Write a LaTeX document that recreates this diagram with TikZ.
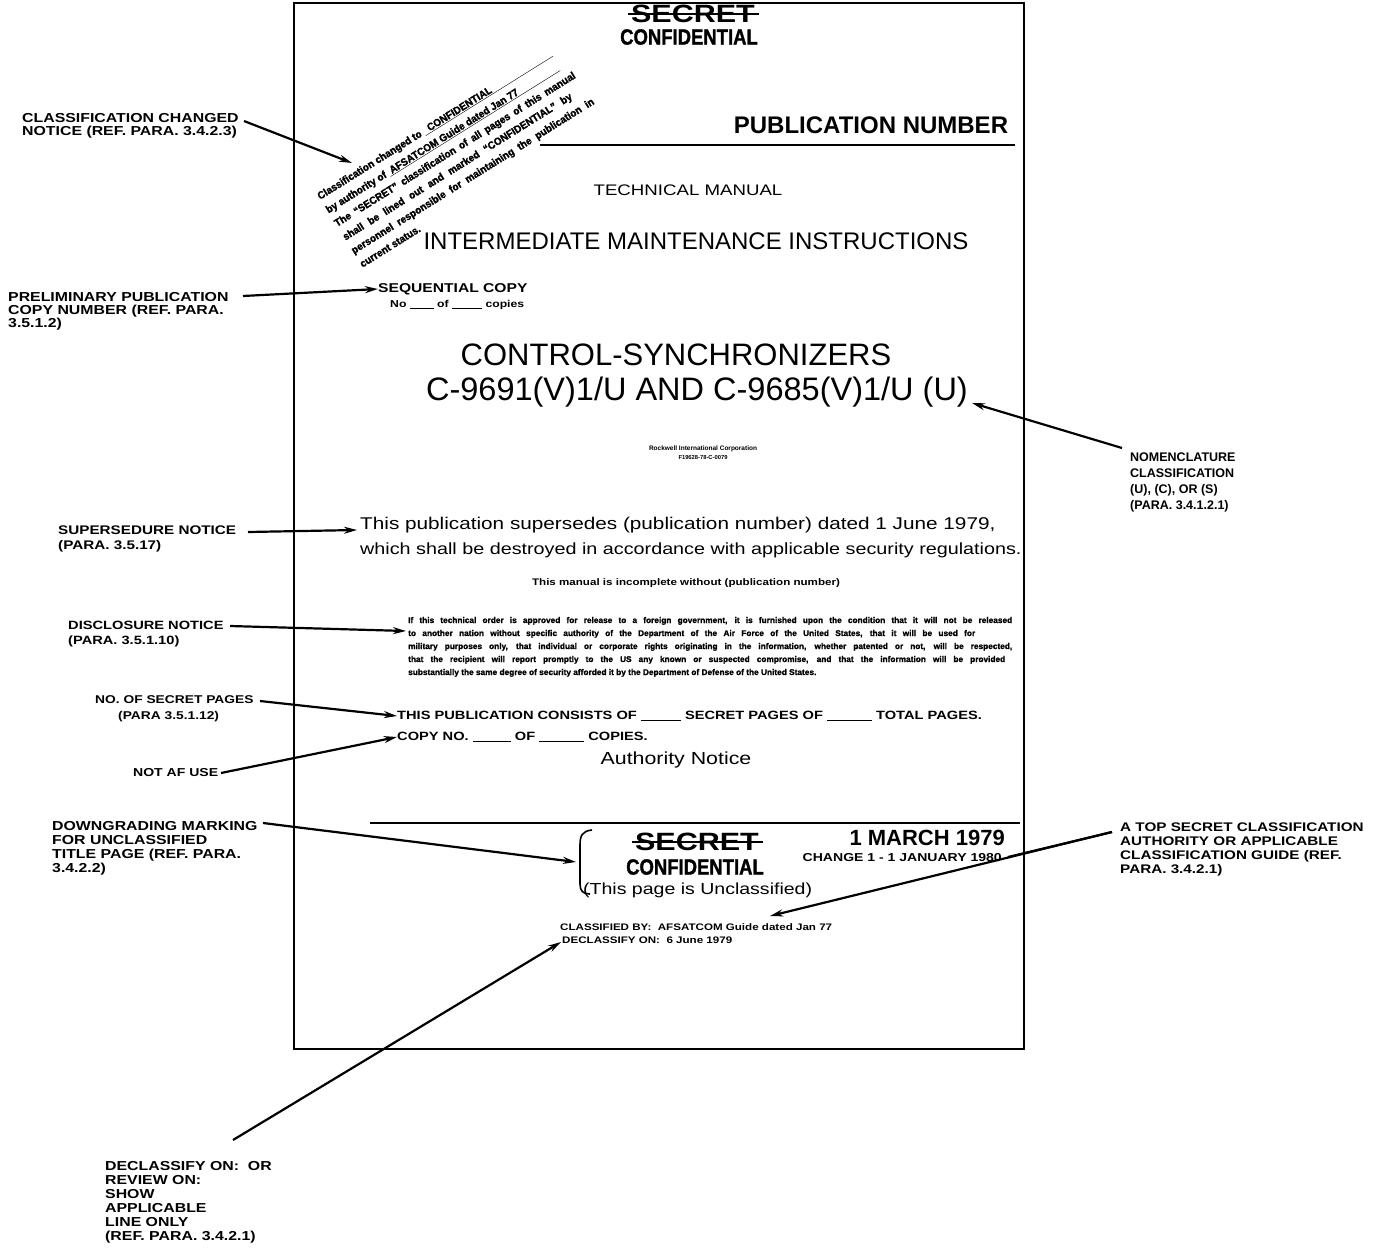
\documentclass[tikz,border=0pt]{standalone}
\usepackage{fontspec}
\setmainfont{Liberation Sans}
\newfontfamily\hv{Liberation Sans}
\newfontfamily\hvw{Liberation Sans}[FakeStretch=1.22]
\newfontfamily\hvc{Liberation Sans}[FakeStretch=0.84,FakeBold=1.5]
\newfontfamily\hvb{Liberation Sans}[FakeBold=1.2]
\newfontfamily\hvs{Liberation Sans}[FakeBold=1.6,FakeStretch=0.95]
\usetikzlibrary{arrows.meta}
\newcommand\blank[1]{\rule[-1pt]{#1pt}{1pt}}
\newcommand\fs[2]{\fontsize{#1}{#2}\selectfont}
\tikzset{
  lab/.style={font=\hvw\bfseries\fs{13}{13.5}, align=left, inner sep=0pt, anchor=north west},
  arr/.style={line width=2.2pt, -{Stealth[length=13pt,width=7pt]}},
  plain/.style={line width=2.2pt},
  txt/.style={inner sep=0pt},
  stamp/.style={font=\hvs\bfseries\fs{10.5}{10.5}, rotate=32, anchor=base west, inner sep=0pt},
  disc/.style={font=\hvb\bfseries\fs{8.3}{8.3}, anchor=base west, inner sep=0pt},
}
\begin{document}
\begin{tikzpicture}[x=1pt,y=-1pt]
\useasboundingbox (0,0) rectangle (1384,1250);
\fill[white] (0,0) rectangle (1384,1250);
% page
\draw[line width=2.5pt] (294,3) rectangle (1024,1049);

% top classification
\node[txt, font=\hvw\bfseries\fs{25}{25}] (topsecret) at (693,14) {SECRET};
\draw[line width=2pt] ([xshift=-3pt]topsecret.west) -- ([xshift=4pt]topsecret.east);
\node[txt, font=\hvc\bfseries\fs{22}{22}] (topconf) at (689,37) {CONFIDENTIAL};
\node[txt, font=\hv\bfseries\fs{24}{24}] (pubnum) at (871,125) {PUBLICATION NUMBER};
\coordinate (r1a) at (540,145);
\coordinate (r1b) at (1015,145);
\draw[line width=1.5pt] (r1a) -- (r1b);

% stamp
\begin{scope}[shift={(320,200)}, rotate=32]
\node[stamp] (s1) at (0,0) {Classification changed to \underline{\makebox[150pt][l]{\ \ CONFIDENTIAL}}};
\node[stamp] (s2) at (0,16) {by authority of \underline{\makebox[200pt][l]{\ AFSATCOM Guide dated Jan 77}}};
\node[stamp] (s3) at (0,32) {\makebox[282pt][s]{The “SECRET” classification of all pages of this manual}};
\node[stamp] (s4) at (0,48) {\makebox[268pt][s]{shall be lined out and marked “CONFIDENTIAL” by}};
\node[stamp] (s5) at (0,64) {\makebox[284pt][s]{personnel responsible for maintaining the publication in}};
\node[stamp] (s6) at (0,80) {current status.};
\end{scope}

\node[txt, font=\hvw\fs{15.3}{15.3}] (techman) at (688,190) {TECHNICAL MANUAL};
\node[txt, font=\hv\fs{24}{24}] (interm) at (696,241) {INTERMEDIATE MAINTENANCE INSTRUCTIONS};

\node[txt, anchor=west, font=\hvw\bfseries\fs{12.8}{12.8}] (seqcopy) at (378,289) {SEQUENTIAL COPY};
\node[txt, anchor=west, font=\hvw\bfseries\fs{10}{10}] (nocopies) at (390,305) {No \blank{24} of \blank{30} copies};

\node[txt, font=\hv\fs{31}{31}] (control) at (676,355) {CONTROL-SYNCHRONIZERS};
\node[txt, font=\hv\fs{32.5}{32.5}] (cnum) at (697,392) {C-9691(V)1/U AND C-9685(V)1/U (U)};

\node[txt, font=\hv\bfseries\fs{6.5}{6.5}] (rock1) at (703,449) {Rockwell International Corporation};
\node[txt, font=\hv\bfseries\fs{5.8}{5.8}] (rock2) at (703,457) {F19628-78-C-0079};

\node[txt, anchor=west, font=\hvw\fs{17}{17}] (super1) at (360,525) {This publication supersedes (publication number) dated 1 June 1979,};
\node[txt, anchor=west, font=\hvw\fs{16.2}{16.2}] (super2) at (360,550) {which shall be destroyed in accordance with applicable security regulations.};

\node[txt, font=\hvw\bfseries\fs{9.5}{9.5}] (incompl) at (686,583) {This manual is incomplete without (publication number)};

% disclosure
\node[disc] (d1) at (408,623) {\makebox[604pt][s]{If this technical order is approved for release to a foreign government, it is furnished upon the condition that it will not be released}};
\node[disc] (d2) at (408,636) {\makebox[567pt][s]{to another nation without specific authority of the Department of the Air Force of the United States, that it will be used for}};
\node[disc] (d3) at (408,649) {\makebox[604pt][s]{military purposes only, that individual or corporate rights originating in the information, whether patented or not, will be respected,}};
\node[disc] (d4) at (408,662) {\makebox[597pt][s]{that the recipient will report promptly to the US any known or suspected compromise, and that the information will be provided}};
\node[disc] (d5) at (408,675) {substantially the same degree of security afforded it by the Department of Defense of the United States.};

\node[txt, anchor=west, font=\hvw\bfseries\fs{12}{12}] (consists) at (397,716) {THIS PUBLICATION CONSISTS OF \blank{40} SECRET PAGES OF \blank{45} TOTAL PAGES.};
\node[txt, anchor=west, font=\hvw\bfseries\fs{12}{12}] (copyno) at (397,737) {COPY NO. \blank{38} OF \blank{45} COPIES.};
\node[txt, font=\hvw\fs{17.5}{17.5}] (authority) at (676,760) {Authority Notice};

\coordinate (r2a) at (370,823);
\coordinate (r2b) at (1020,823);
\draw[line width=1.5pt] (r2a) -- (r2b);

% bottom block
\coordinate (bA) at (592,830);
\coordinate (bB) at (590,894);
\draw[line width=1.6pt] (bA) .. controls (582,831) and (580,836) .. (580,845) -- (580,884) .. controls (580,891) and (583,894) .. (bB);
\node[txt, font=\hvw\bfseries\fs{25}{25}] (botsecret) at (697,842) {SECRET};
\draw[line width=2pt] ([xshift=-3pt]botsecret.west) -- ([xshift=4pt]botsecret.east);
\node[txt, font=\hvc\bfseries\fs{22}{22}] (botconf) at (695,867) {CONFIDENTIAL};
\node[txt, anchor=west, font=\hvw\fs{16}{16}] (unclass) at (583,890) {(This page is Unclassified)};
\node[txt, anchor=east, font=\hv\bfseries\fs{22}{22}] (march) at (1005,838) {1 MARCH 1979};
\node[txt, anchor=east, font=\hvw\bfseries\fs{11.5}{11.5}] (change) at (1002,858) {CHANGE 1 - 1 JANUARY 1980};
\node[txt, anchor=west, font=\hvw\bfseries\fs{9.5}{9.5}] (classby) at (560,927) {CLASSIFIED BY:\ \ AFSATCOM Guide dated Jan 77};
\node[txt, anchor=west, font=\hvw\bfseries\fs{9.5}{9.5}] (declass) at (562,940) {DECLASSIFY ON:\ \ 6 June 1979};

% labels
\node[lab] (L1) at (22,113) {CLASSIFICATION CHANGED\\NOTICE (REF. PARA. 3.4.2.3)};
\node[lab, font=\hvw\bfseries\fs{13}{13}] (L2) at (8,292) {PRELIMINARY PUBLICATION\\COPY NUMBER (REF. PARA.\\3.5.1.2)};
\node[lab, font=\hvw\bfseries\fs{12.5}{15}] (L3) at (58,526) {SUPERSEDURE NOTICE\\(PARA. 3.5.17)};
\node[lab, font=\hvw\bfseries\fs{12}{15}] (L4) at (68,621) {DISCLOSURE NOTICE\\(PARA. 3.5.1.10)};
\node[lab, font=\hvw\bfseries\fs{11.3}{16}] (L5) at (95,695) {NO. OF SECRET PAGES\\\hspace*{23pt}(PARA 3.5.1.12)};
\node[lab, font=\hvw\bfseries\fs{11.5}{11.5}] (L6) at (133,768) {NOT AF USE};
\node[lab, font=\hvw\bfseries\fs{13}{14}] (L7) at (52,821) {DOWNGRADING MARKING\\FOR UNCLASSIFIED\\TITLE PAGE (REF. PARA.\\3.4.2.2)};
\node[lab, font=\hv\bfseries\fs{12.5}{15.7}] (L8) at (1130,453) {NOMENCLATURE\\CLASSIFICATION\\(U), (C), OR (S)\\(PARA. 3.4.1.2.1)};
\node[lab, font=\hvw\bfseries\fs{12.5}{13.7}] (L9) at (1120,823) {A TOP SECRET CLASSIFICATION\\AUTHORITY OR APPLICABLE\\CLASSIFICATION GUIDE (REF.\\PARA. 3.4.2.1)};
\node[lab, font=\hvw\bfseries\fs{13}{14}] (L10) at (105,1161) {DECLASSIFY ON:\ \ OR\\REVIEW ON:\\SHOW\\APPLICABLE\\LINE ONLY\\(REF. PARA. 3.4.2.1)};

% connector coordinates
\coordinate (c1) at (244,121);  \coordinate (t1) at (352,163);
\coordinate (c2) at (243,296);
\coordinate (c3) at (248,532);  \coordinate (t3) at (357,530);
\coordinate (c4) at (230,626);  \coordinate (t4) at (406,631);
\coordinate (c5) at (260,701);
\coordinate (c6) at (221,773);
\coordinate (c7) at (263,823);  \coordinate (t7) at (576,862);
\coordinate (c8) at (1122,448); \coordinate (t8) at (972,403);
\coordinate (c9) at (1112,832); \coordinate (t9a) at (1008,857); \coordinate (t9b) at (770,916);
\coordinate (c10) at (233,1140);\coordinate (t10) at (561,942);

\draw[arr] (c1) -- (t1);
\draw[arr] (c2) -- (seqcopy.west);
\draw[arr] (c3) -- (t3);
\draw[arr] (c4) -- (t4);
\draw[arr] (c5) -- (consists.west);
\draw[arr] (c6) -- (copyno.west);
\draw[arr] (c7) -- (t7);
\draw[arr] (c8) -- (t8);
\draw[plain] (c9) -- (t9a);
\draw[arr] (c9) -- (t9b);
\draw[arr] (c10) -- (t10);
\end{tikzpicture}
\end{document}
